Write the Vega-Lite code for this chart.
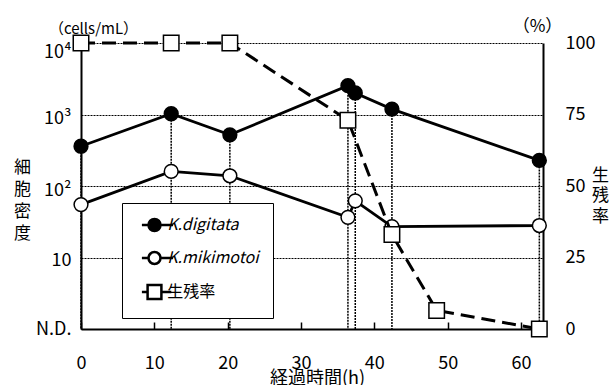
{
  "$schema": "https://vega.github.io/schema/vega-lite/v6.json",
  "width": 462,
  "height": 286,
  "autosize": {"type": "none"},
  "padding": {"left": 81, "top": 43, "right": 73, "bottom": 56},
  "background": "white",
  "config": {
    "font": "Noto Sans CJK JP",
    "view": {"stroke": null},
    "axis": {
      "labelFont": "Noto Sans CJK JP",
      "titleFont": "Noto Sans CJK JP",
      "labelColor": "black",
      "titleColor": "black",
      "titleFontWeight": "normal",
      "labelFlush": false,
      "labelOverlap": false,
      "domainColor": "black"
    }
  },
  "title": {
    "text": "（cells/mL）",
    "anchor": "start",
    "frame": "group",
    "dx": -32,
    "offset": -20,
    "fontSize": 15,
    "fontWeight": "normal",
    "color": "black",
    "font": "Noto Sans CJK JP"
  },
  "datasets": {
    "cells": [
      {"t": 0, "series": "K.digitata", "cells": 360},
      {"t": 12.3, "series": "K.digitata", "cells": 1025},
      {"t": 20.3, "series": "K.digitata", "cells": 520},
      {"t": 36.4, "series": "K.digitata", "cells": 2530},
      {"t": 37.4, "series": "K.digitata", "cells": 2000},
      {"t": 42.4, "series": "K.digitata", "cells": 1190},
      {"t": 62.5, "series": "K.digitata", "cells": 228},
      {"t": 0, "series": "K.mikimotoi", "cells": 55},
      {"t": 12.3, "series": "K.mikimotoi", "cells": 160},
      {"t": 20.3, "series": "K.mikimotoi", "cells": 139},
      {"t": 36.4, "series": "K.mikimotoi", "cells": 36.5},
      {"t": 37.4, "series": "K.mikimotoi", "cells": 62},
      {"t": 42.4, "series": "K.mikimotoi", "cells": 27},
      {"t": 62.5, "series": "K.mikimotoi", "cells": 28}
    ],
    "survival": [
      {"t": 0, "rate": 100},
      {"t": 12.3, "rate": 100},
      {"t": 20.3, "rate": 100},
      {"t": 36.4, "rate": 73},
      {"t": 42.4, "rate": 33},
      {"t": 48.5, "rate": 6.5},
      {"t": 62.5, "rate": 0}
    ],
    "legendrows": [
      {"series": "K.digitata"},
      {"series": "K.mikimotoi"},
      {"series": "生残率"}
    ]
  },
  "layer": [
    {
      "layer": [
        {
          "data": {"name": "cells"},
          "transform": [{"filter": "datum.series == 'K.digitata'"}],
          "mark": {"type": "rule", "color": "black", "strokeWidth": 1.5, "strokeDash": [2, 1]},
          "encoding": {
            "x": {
              "field": "t", "type": "quantitative",
              "scale": {"domain": [0, 63], "nice": false},
              "axis": {
                "values": [0, 10, 20, 30, 40, 50, 60],
                "title": "経過時間(h)",
                "titleFontSize": 18,
                "titleX": 236,
                "titleY": 49,
                "titleBaseline": "middle",
                "titleAlign": "center",
                "labelFontSize": 18,
                "labelPadding": 32,
                "tickSize": -7,
                "tickColor": "black",
                "tickWidth": 1.5,
                "domainWidth": 2,
                "grid": false
              }
            },
            "y": {
              "field": "cells", "type": "quantitative",
              "scale": {"type": "log", "domain": [1, 10000], "nice": false},
              "axis": {
                "orient": "left",
                "title": ["細", "胞", "密", "度"],
                "titleAngle": 0,
                "titleX": -59,
                "titleY": 124,
                "titleAlign": "center",
                "titleBaseline": "middle",
                "titleLineHeight": 22.3,
                "titleFontSize": 17,
                "values": [1, 10, 100, 1000, 10000],
                "labelExpr": "datum.value == 1 ? 'N.D.' : datum.value == 10 ? '10' : datum.value == 100 ? '10²' : datum.value == 1000 ? '10³' : '10⁴'",
                "labelOffset": {"condition": [{"test": "datum.value == 10000", "value": 9}, {"test": "datum.value == 1000", "value": 4}, {"test": "datum.value == 100", "value": 4}, {"test": "datum.value == 10", "value": 3}], "value": 0},
                "labelFontSize": 18,
                "labelPadding": 10,
                "ticks": false,
                "grid": true,
                "gridColor": "black",
                "gridWidth": 1,
                "gridDash": [2, 1],
                "domainWidth": 2
              }
            },
            "y2": {"datum": 1}
          }
        },
        {
          "data": {"name": "cells"},
          "mark": {"type": "line", "color": "black", "strokeWidth": 2.8},
          "encoding": {
            "x": {"field": "t", "type": "quantitative"},
            "y": {"field": "cells", "type": "quantitative"},
            "detail": {"field": "series"}
          }
        },
        {
          "data": {"name": "cells"},
          "mark": {"type": "point", "shape": "circle", "size": 190, "filled": true, "stroke": "black", "strokeWidth": 1.5, "opacity": 1},
          "encoding": {
            "x": {"field": "t", "type": "quantitative"},
            "y": {"field": "cells", "type": "quantitative"},
            "fill": {"condition": {"test": "datum.series == 'K.digitata'", "value": "black"}, "value": "white"}
          }
        },
        {
          "data": {"name": "legendrows"},
          "mark": {"type": "point", "filled": true, "color": "white", "opacity": 0, "stroke": "black", "strokeWidth": 2.5},
          "encoding": {
            "shape": {
              "field": "series", "type": "nominal",
              "scale": {
                "domain": ["K.digitata", "K.mikimotoi", "生残率"],
                "range": [
                  "M-2.1,0H-1M1,0H3.1M-1,0A1,1,0,1,0,1,0A1,1,0,1,0,-1,0ZM-0.6,0A0.6,0.6,0,1,0,0.6,0A0.6,0.6,0,1,0,-0.6,0ZM-0.2,0A0.2,0.2,0,1,0,0.2,0A0.2,0.2,0,1,0,-0.2,0Z",
                  "M-2.1,0H-1M1,0H3.1M-1,0A1,1,0,1,0,1,0A1,1,0,1,0,-1,0Z",
                  "M-2.1,0H-1.15M1.15,0H2.8M-1.15,-1.15H1.15V1.15H-1.15Z"
                ]
              },
              "legend": {
                "title": null,
                "orient": "none",
                "legendX": 41,
                "legendY": 160,
                "padding": 14,
                "strokeColor": "black",
                "fillColor": "white",
                "symbolSize": 144,
                "symbolStrokeWidth": 2.5,
                "symbolOpacity": 1,
                "symbolOffset": 10.5,
                "labelOffset": 4.7,
                "rowPadding": 11,
                "labelFontSize": 16,
                "labelFontStyle": {"expr": "datum.value == '生残率' ? 'normal' : 'italic'"},
                "labelFont": "Noto Sans CJK JP",
                "labelColor": "black"
              }
            }
          }
        }
      ]
    },
    {
      "data": {"name": "survival"},
      "layer": [
        {
          "mark": {"type": "line", "color": "black", "strokeWidth": 3, "strokeDash": [14, 7]},
          "encoding": {
            "x": {
              "field": "t", "type": "quantitative",
              "axis": {
                "orient": "top",
                "domain": false,
                "ticks": false,
                "labels": false,
                "grid": false,
                "title": "（%）",
                "titleX": 456,
                "titleY": -17,
                "titleAngle": 0,
                "titleAlign": "center",
                "titleBaseline": "middle",
                "titleFontSize": 17
              }
            },
            "y": {
              "field": "rate", "type": "quantitative",
              "scale": {"domain": [0, 100], "nice": false},
              "axis": {
                "orient": "right",
                "values": [0, 25, 50, 75, 100],
                "labelFontSize": 18,
                "labelPadding": 22,
                "ticks": false,
                "grid": false,
                "domainWidth": 2,
                "title": ["生", "残", "率"],
                "titleAngle": 0,
                "titleX": 57,
                "titleY": 132,
                "titleAlign": "center",
                "titleBaseline": "middle",
                "titleLineHeight": 20.5,
                "titleFontSize": 17
              }
            }
          }
        },
        {
          "mark": {"type": "point", "shape": "square", "size": 240, "filled": true, "fill": "white", "stroke": "black", "strokeWidth": 1.5, "opacity": 1},
          "encoding": {
            "x": {"field": "t", "type": "quantitative"},
            "y": {"field": "rate", "type": "quantitative"}
          }
        }
      ]
    }
  ],
  "resolve": {"scale": {"y": "independent"}, "axis": {"x": "independent"}}
}
